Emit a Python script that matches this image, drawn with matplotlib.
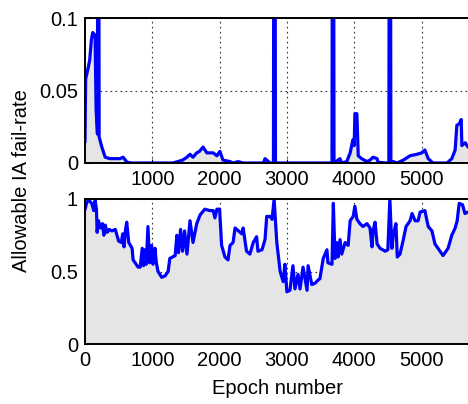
import matplotlib
matplotlib.use("Agg")
import matplotlib.pyplot as plt

# ---- data ----
top_epochs = [0, 10, 40, 70, 95, 115, 150, 165, 185, 195, 210, 250, 300, 370, 450, 520, 565, 625,
              700, 1000, 1300, 1380, 1450, 1515, 1560, 1605, 1660, 1700, 1755, 1810, 1905, 1960,
              2005, 2050, 2155, 2200, 2275, 2350, 2650, 2675, 2750, 2800, 2815, 2830, 3670, 3685,
              3700, 3790, 3810, 3890, 3940, 3980, 4000, 4010, 4040, 4060, 4110, 4190, 4235, 4280,
              4340, 4355, 4485, 4515, 4530, 4545, 4580, 4635, 4730, 4830, 4930, 5005, 5050, 5100,
              5170, 5380, 5450, 5500, 5525, 5560, 5590, 5600, 5650, 5690, 5750]
top_rate = [0.015, 0.058, 0.064, 0.071, 0.085, 0.090, 0.088, 0.037, 0.020, 0.5, 0.018, 0.011, 0.004,
            0.003, 0.003, 0.003, 0.004, 0.0005, 0.0, 0.0, 0.0, 0.001, 0.002, 0.004, 0.006, 0.004,
            0.007, 0.008, 0.011, 0.007, 0.007, 0.005, 0.008, 0.002, 0.001, 0.0, 0.001, 0.0, 0.0,
            0.003, 0.0, 0.0, 0.5, 0.0, 0.0, 0.5, 0.0, 0.003, 0.0, 0.001, 0.007, 0.016, 0.012, 0.034,
            0.034, 0.005, 0.003, 0.001, 0.002, 0.004, 0.003, 0.0005, 0.0, 0.0, 0.5, 0.0, 0.001, 0.0,
            0.002, 0.005, 0.006, 0.007, 0.009, 0.003, 0.0, 0.0, 0.003, 0.009, 0.026, 0.027, 0.030,
            0.012, 0.014, 0.011, 0.011]

bottom_epochs = [0, 30, 60, 100, 130, 150, 170, 180, 200, 230, 260, 280, 300, 330, 360, 400, 450,
                 500, 540, 560, 580, 600, 620, 650, 700, 715, 790, 820, 850, 870, 890, 910, 935,
                 960, 990, 1010, 1040, 1060, 1085, 1140, 1190, 1235, 1260, 1340, 1365, 1390, 1420,
                 1450, 1480, 1515, 1560, 1605, 1660, 1710, 1780, 1855, 1905, 1930, 1960, 2000,
                 2030, 2080, 2125, 2155, 2200, 2230, 2280, 2330, 2350, 2400, 2450, 2500, 2550,
                 2570, 2630, 2675, 2700, 2750, 2780, 2810, 2850, 2900, 2945, 2970, 3000, 3045,
                 3090, 3120, 3165, 3195, 3240, 3300, 3315, 3370, 3420, 3460, 3490, 3540, 3595,
                 3610, 3670, 3690, 3715, 3740, 3760, 3790, 3815, 3865, 3910, 3940, 3985, 4010,
                 4040, 4085, 4130, 4190, 4235, 4265, 4280, 4310, 4340, 4385, 4460, 4500, 4530,
                 4560, 4580, 4620, 4640, 4680, 4730, 4770, 4830, 4860, 4905, 4950, 4980, 5050,
                 5100, 5155, 5200, 5275, 5320, 5395, 5450, 5500, 5530, 5560, 5610, 5645, 5690,
                 5750]
bottom_rate = [0.93, 0.98, 0.99, 0.97, 0.92, 0.99, 0.93, 0.77, 0.85, 0.80, 0.83, 0.75, 0.82, 0.77,
               0.79, 0.78, 0.79, 0.71, 0.70, 0.76, 0.67, 0.78, 0.84, 0.70, 0.66, 0.58, 0.53, 0.53,
               0.66, 0.54, 0.65, 0.55, 0.81, 0.56, 0.68, 0.55, 0.66, 0.56, 0.50, 0.46, 0.47, 0.50,
               0.59, 0.61, 0.75, 0.63, 0.79, 0.64, 0.78, 0.62, 0.85, 0.70, 0.83, 0.89, 0.93, 0.92,
               0.92, 0.87, 0.93, 0.93, 0.68, 0.60, 0.58, 0.68, 0.70, 0.80, 0.78, 0.76, 0.80, 0.64,
               0.62, 0.70, 0.74, 0.64, 0.65, 0.72, 0.88, 0.88, 0.86, 1.0, 0.70, 0.50, 0.43, 0.55,
               0.36, 0.37, 0.54, 0.38, 0.48, 0.38, 0.53, 0.37, 0.54, 0.41, 0.42, 0.44, 0.45, 0.59,
               0.65, 0.56, 0.55, 0.97, 0.59, 0.70, 0.60, 0.72, 0.62, 0.70, 0.68, 0.85, 0.88, 0.95,
               0.86, 0.83, 0.81, 0.83, 0.80, 0.67, 0.78, 0.84, 0.69, 0.66, 0.64, 0.65, 1.0, 0.66,
               0.75, 0.83, 0.60, 0.62, 0.72, 0.81, 0.85, 0.90, 0.85, 0.85, 0.91, 0.92, 0.81, 0.78,
               0.69, 0.64, 0.61, 0.66, 0.75, 0.80, 0.85, 0.97, 0.96, 0.90, 0.91, 0.91]

x_ticks = [0, 1000, 2000, 3000, 4000, 5000]
top_yticks = [0, 0.05, 0.1]
top_yticklabels = ["0", "0.05", "0.1"]
bottom_yticks = [0, 0.5, 1]
bottom_yticklabels = ["0", "0.5", "1"]

# ---- style ----
plt.rcParams['font.family'] = ['Liberation Sans', 'DejaVu Sans']
FS = 14.5

W, H = 468, 404
fig = plt.figure(figsize=(W / 100, H / 100), dpi=100)

left = 85 / W
right_px = 472
xmax = (right_px - 85) / 0.0673
width = (right_px - 85) / W

def make_axes(top_px, bot_px):
    return fig.add_axes([left, 1 - bot_px / H, width, (bot_px - top_px) / H])

ax_top = make_axes(18, 163)
ax_bot = make_axes(199, 344)

line_color = "#0000ff"
fill_color = "#e5e5e5"
lw = 2.3

for ax, xs, ys, ylim, yt, ytl, xt in [
    (ax_top, top_epochs, top_rate, (0, 0.1), top_yticks, top_yticklabels, x_ticks[1:]),
    (ax_bot, bottom_epochs, bottom_rate, (0, 1), bottom_yticks, bottom_yticklabels, x_ticks),
]:
    ax.fill_between(xs, ys, 0, color=fill_color, lw=0, zorder=2)
    ax.plot(xs, ys, color=line_color, lw=lw, zorder=3, solid_joinstyle='round')
    ax.set_xlim(0, xmax)
    ax.set_ylim(*ylim)
    ax.set_xticks(xt)
    ax.set_xticklabels([str(v) for v in xt])
    ax.set_yticks(yt)
    ax.set_yticklabels(ytl)
    ax.grid(True, which='major', linestyle=(0, (1.5, 3)), color='#333333', lw=0.8, zorder=1)
    ax.set_axisbelow(True)
    ax.tick_params(direction='in', length=3, width=0.8, labelsize=FS, pad=5, colors='black')
    for s in ax.spines.values():
        s.set_linewidth(1.4)
        s.set_zorder(5)
    ax.spines['right'].set_visible(False)

fig.text(22 / W, 1 - 181 / H, "Allowable IA fail-rate", rotation=90,
         ha='center', va='center', fontsize=FS)
fig.text(278 / W, 1 - 388 / H, "Epoch number", ha='center', va='center', fontsize=FS)

fig.savefig("out.png", dpi=100)
